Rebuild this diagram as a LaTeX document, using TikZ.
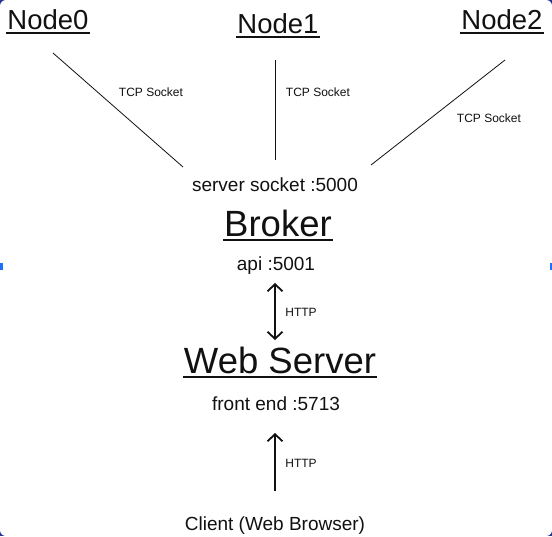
\documentclass[tikz,border=0pt]{standalone}
\usepackage{fontspec}
\setmainfont{Liberation Sans}
\usetikzlibrary{arrows.meta, positioning, calc}
\definecolor{inkframe}{HTML}{283593}
\definecolor{inkhandle}{HTML}{1E6FFF}
\definecolor{inktext}{HTML}{111111}
\tikzset{
  hostname/.style={text=inktext, inner sep=1pt, font=\fontsize{27.5}{30}\selectfont},
  bigname/.style={text=inktext, inner sep=1pt, font=\fontsize{36.5}{40}\selectfont},
  portlabel/.style={text=inktext, inner sep=1pt, font=\fontsize{19}{21}\selectfont},
  linklabel/.style={text=inktext, inner sep=1pt, font=\fontsize{12}{14}\selectfont},
  socketline/.style={draw=inktext, line width=0.8pt},
  httptip/.tip={Straight Barb[length=7pt, width=15pt]},
  httpline/.style={draw=inktext, line width=1.8pt},
  underbar/.style={draw=inktext, line width=2pt}
}
\begin{document}
\begin{tikzpicture}[x=1pt, y=-1pt]
  % frame
  \fill[inkframe] (0,0) rectangle (552,536);
  \fill[white, rounded corners=6pt] (0,0) rectangle (552,536);
  \fill[inkhandle] (0,263) rectangle (2.5,270);
  \fill[inkhandle] (549.5,263) rectangle (552,270);
  \useasboundingbox (0,0) rectangle (552,536);

  % hosts
  \node[hostname] (n0) at (48,20) {Node0};
  \node[hostname] (n1) at (278,24) {Node1};
  \node[hostname] (n2) at (502,20) {Node2};
  \draw[underbar] ($(n0.south west)+(0,2)$) -- ($(n0.south east)+(0,2)$);
  \draw[underbar] ($(n1.south west)+(0,2)$) -- ($(n1.south east)+(0,2)$);
  \draw[underbar] ($(n2.south west)+(0,2)$) -- ($(n2.south east)+(0,2)$);

  % broker
  \node[portlabel] (sock) at (275,185) {server socket :5000};
  \node[bigname] (broker) at (278,223) {Broker};
  \draw[underbar] ($(broker.south west)+(0,2)$) -- ($(broker.south east)+(0,2)$);
  \node[portlabel] (api) at (276,266) {api :5001};

  % web server
  \node[bigname] (web) at (280,360) {Web Server};
  \draw[underbar] ($(web.south west)+(0,2)$) -- ($(web.south east)+(0,2)$);
  \node[portlabel] (front) at (276,404) {front end :5713};
  \node[portlabel] (client) at (275,526) {Client (Web Browser)};

  % connectors
  \coordinate (t0) at (53,53);   \coordinate (b0) at (183,167);
  \coordinate (t1) at (275,60);  \coordinate (b1) at (275,160);
  \coordinate (t2) at (505,60);  \coordinate (b2) at (371,165);
  \draw[socketline] (t0) -- (b0);
  \draw[socketline] (t1) -- (b1);
  \draw[socketline] (t2) -- (b2);
  \node[linklabel] (tcp0) at (151,92) {TCP Socket};
  \node[linklabel] (tcp1) at (318,92) {TCP Socket};
  \node[linklabel] (tcp2) at (489,118) {TCP Socket};

  \coordinate (a1) at (275,283); \coordinate (a2) at (275,340);
  \draw[httpline, httptip-httptip] (a1) -- (a2);
  \node[linklabel] (http1) at (301,312) {HTTP};
  \coordinate (c1) at (275,491); \coordinate (c2) at (275,433);
  \draw[httpline, -httptip] (c1) -- (c2);
  \node[linklabel] (http2) at (301,463) {HTTP};
\end{tikzpicture}
\end{document}
